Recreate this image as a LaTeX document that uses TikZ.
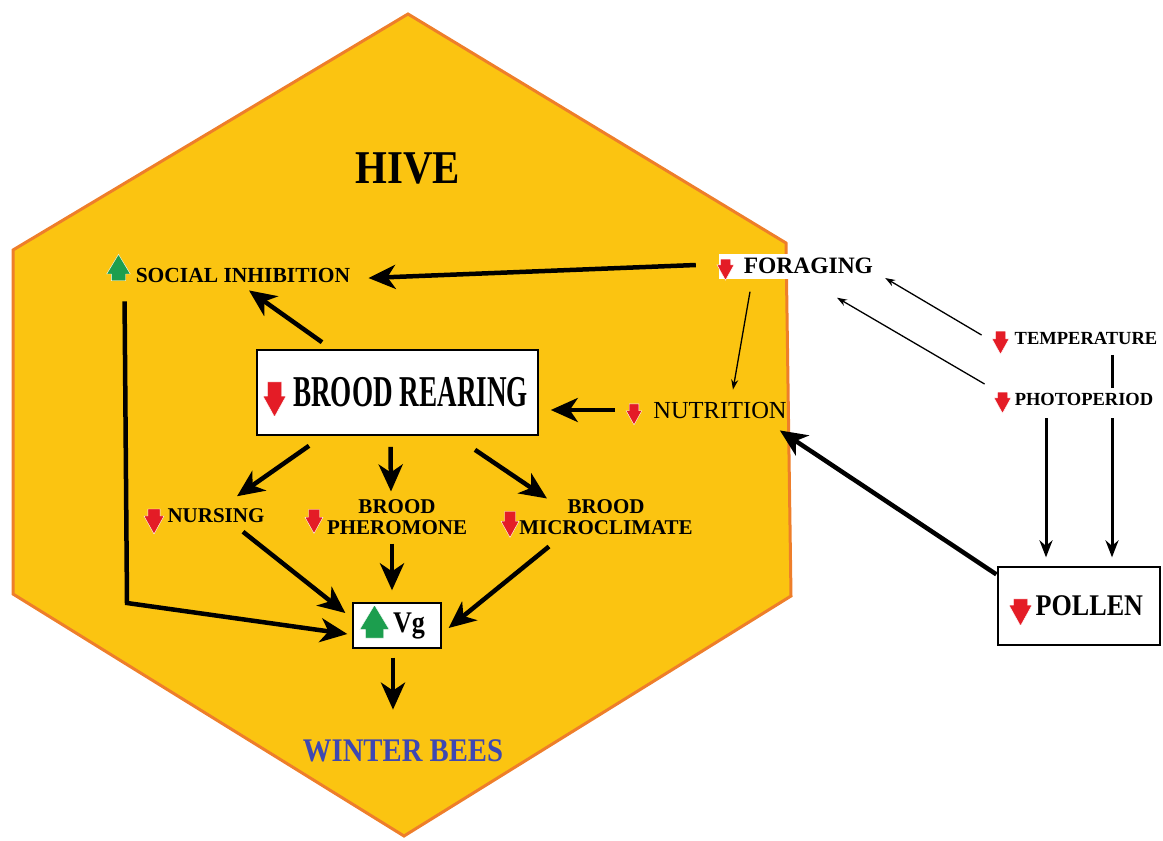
\documentclass[tikz,border=0pt]{standalone}
\usepackage{fontspec}
\setmainfont{Liberation Serif}
\newfontfamily\narrowA[FakeStretch=0.617]{Liberation Serif}
\newfontfamily\narrowB[FakeStretch=0.87]{Liberation Serif}
\usetikzlibrary{arrows.meta,calc,shapes.arrows}
\definecolor{hiveyellow}{RGB}{251,196,17}
\definecolor{hiveedge}{RGB}{238,126,42}
\definecolor{downred}{RGB}{228,28,38}
\definecolor{upgreen}{RGB}{28,158,78}
\definecolor{winterblue}{RGB}{62,72,178}

\begin{document}
\begin{tikzpicture}[x=1pt, y=-1pt,
  lbl/.style={font=\bfseries\fontsize{21}{20.5}\selectfont, inner sep=0pt, align=center},
  ebox/.style={draw, fill=white, align=right, inner ysep=0pt},
  dnarr/.style n args={3}{single arrow, single arrow tip angle=58, inner sep=#1, single arrow head extend=#2, minimum height=#3, rotate=-90, fill=downred, draw=white, line width=0.4pt},
  uparr/.style n args={3}{single arrow, single arrow tip angle=62, inner sep=#1, single arrow head extend=#2, minimum height=#3, rotate=90, fill=upgreen, draw=white, line width=0.4pt},
  bigarr/.style={-{Stealth[length=27pt,width=24pt,inset=8pt]}, line width=4.5pt},
  thinarr/.style={-{Stealth[length=10pt,width=7pt]}, line width=1.3pt},
  midarr/.style={-{Stealth[length=17pt,width=13pt]}, line width=3pt}
]
\useasboundingbox (0,0) rectangle (1163,841);

% the hive
\draw[fill=hiveyellow, draw=hiveedge, line width=3pt] (408,14) -- (13,250) -- (13,594) -- (404,836) -- (791,596) -- (786,243) -- cycle;
\node[font=\narrowB\bfseries\fontsize{47}{47}\selectfont, inner sep=0pt] (hive) at (408,168) {HIVE};

\node[lbl, font=\bfseries\fontsize{21.5}{21.5}\selectfont] (social) at (243,275) {SOCIAL INHIBITION};
\node[uparr={7pt}{4.6pt}{24pt}] (socialup) at (118.5,273.5) {};

\node[ebox, draw=none, font=\bfseries\fontsize{23.5}{23.5}\selectfont, text width=151pt, inner xsep=3pt, minimum height=25pt] (forag) at (797.5,266) {FORAGING};
\node[dnarr={5pt}{3.3pt}{21pt}] (foragdn) at (725.5,265) {};

\node[ebox, line width=1.6pt, minimum width=281pt, minimum height=85pt, text width=261pt, inner xsep=10pt, font=\narrowA\bfseries\fontsize{44}{44}\selectfont] (brood) at (397.5,392.5) {\spaceskip=7pt\relax BROOD REARING};
\node[dnarr={6.8pt}{4.5pt}{35pt}] (brooddn) at (274.5,393) {};

\node[font=\fontsize{24.5}{24.5}\selectfont, inner sep=0pt] (nutr) at (720,411) {NUTRITION};
\node[dnarr={4.6pt}{3pt}{21pt}] (nutrdn) at (634,410) {};

\node[lbl] (nurs) at (216,515.5) {NURSING};
\node[dnarr={5.9pt}{3.9pt}{25pt}] (nursdn) at (154,516) {};
\node[lbl] (pher) at (397,517) {BROOD\\PHEROMONE};
\node[dnarr={5.3pt}{3.5pt}{24pt}] (pherdn) at (314,516.5) {};
\node[lbl] (micro) at (606,517) {BROOD\\MICROCLIMATE};
\node[dnarr={5.3pt}{3.5pt}{26pt}] (microdn) at (510,519.5) {};

\node[ebox, line width=1.3pt, minimum width=88pt, minimum height=45pt, text width=56pt, inner xsep=16pt, font=\narrowB\bfseries\fontsize{30}{30}\selectfont] (vg) at (397,625.5) {Vg};
\node[uparr={8.8pt}{5.8pt}{33pt}] (vgup) at (374.5,629) {};

\node[font=\narrowB\bfseries\fontsize{33}{33}\selectfont, text=winterblue, inner sep=0pt] (winter) at (403,751) {WINTER BEES};

% outside the hive
\node[font=\bfseries\fontsize{18.5}{18.5}\selectfont, inner sep=0pt] (temp) at (1086,338.5) {TEMPERATURE};
\node[dnarr={5pt}{3.3pt}{23pt}] (tempdn) at (1000.5,338) {};
\node[font=\bfseries\fontsize{18.5}{18.5}\selectfont, inner sep=0pt] (photo) at (1084,399) {PHOTOPERIOD};
\node[dnarr={5pt}{3.3pt}{21pt}] (photodn) at (1002.5,398) {};

\node[ebox, line width=1.3pt, minimum width=162pt, minimum height=78pt, text width=128pt, inner xsep=17pt, font=\narrowB\bfseries\fontsize{30}{30}\selectfont] (pollen) at (1079,606) {POLLEN};
\node[dnarr={6.8pt}{4.5pt}{27pt}] (pollendn) at (1020.5,606) {};

% arrows
\draw[bigarr] ([xshift=-23pt,yshift=1pt]forag.west) -- ([xshift=18pt,yshift=-3pt]social.east);
\draw[bigarr] ([xshift=-75.5pt,yshift=7pt]brood.north) -- ([xshift=6pt,yshift=-8pt]social.south);
\draw[bigarr] ([xshift=-38pt,yshift=1pt]nutr.west) -- ([xshift=12pt,yshift=-17.5pt]brood.east);
\draw[bigarr] ([xshift=-88.5pt,yshift=-10pt]brood.south) -- ([xshift=21pt,yshift=12pt]nurs.north);
\draw[bigarr] ([xshift=-7pt,yshift=-11pt]brood.south) -- ([xshift=-6pt,yshift=8pt]pher.north);
\draw[bigarr] ([xshift=77.5pt,yshift=-14pt]brood.south) -- ([xshift=-59pt,yshift=1pt]micro.north);
\draw[bigarr] ([xshift=27pt,yshift=-9pt]nurs.south) -- ([xshift=-7pt,yshift=12.5pt]vg.west);
\draw[bigarr] ([xshift=-5pt,yshift=-9pt]pher.south) -- ([xshift=-5pt,yshift=12pt]vg.north);
\draw[bigarr] ([xshift=-57pt,yshift=-12pt]micro.south) -- ([xshift=7pt,yshift=-2.5pt]vg.east);
\coordinate (bend) at (127,603);
\draw[bigarr] ([xshift=-11pt,yshift=-19pt]social.south west) -- (bend) -- ([xshift=-5pt,yshift=-8.5pt]vg.west);
\draw[bigarr] ([xshift=-4pt,yshift=-9pt]vg.south) -- ([xshift=-10pt,yshift=30pt]winter.north);
\draw[bigarr] ([xshift=-1pt,yshift=-8pt]pollen.north west) -- ([xshift=-7pt,yshift=-11pt]nutr.south east);

\draw[thinarr] ([xshift=-47.5pt,yshift=-13pt]forag.south) -- ([xshift=13pt,yshift=13pt]nutr.north);
\draw[thinarr] ([xshift=-33pt,yshift=3.5pt]temp.west) -- ([xshift=9pt,yshift=-12pt]forag.east);
\draw[thinarr] ([xshift=-30pt,yshift=15pt]photo.west) -- ([xshift=39.5pt,yshift=-19pt]forag.south);

\draw[midarr] ([xshift=-38pt,yshift=-13pt]photo.south) -- ([xshift=-33pt,yshift=9pt]pollen.north);
\draw[line width=3pt] ([xshift=26pt,yshift=-10pt]temp.south) -- ([xshift=28pt,yshift=5pt]photo.north);
\draw[midarr] ([xshift=28pt,yshift=-13pt]photo.south) -- ([xshift=33pt,yshift=9pt]pollen.north);
\end{tikzpicture}
\end{document}
